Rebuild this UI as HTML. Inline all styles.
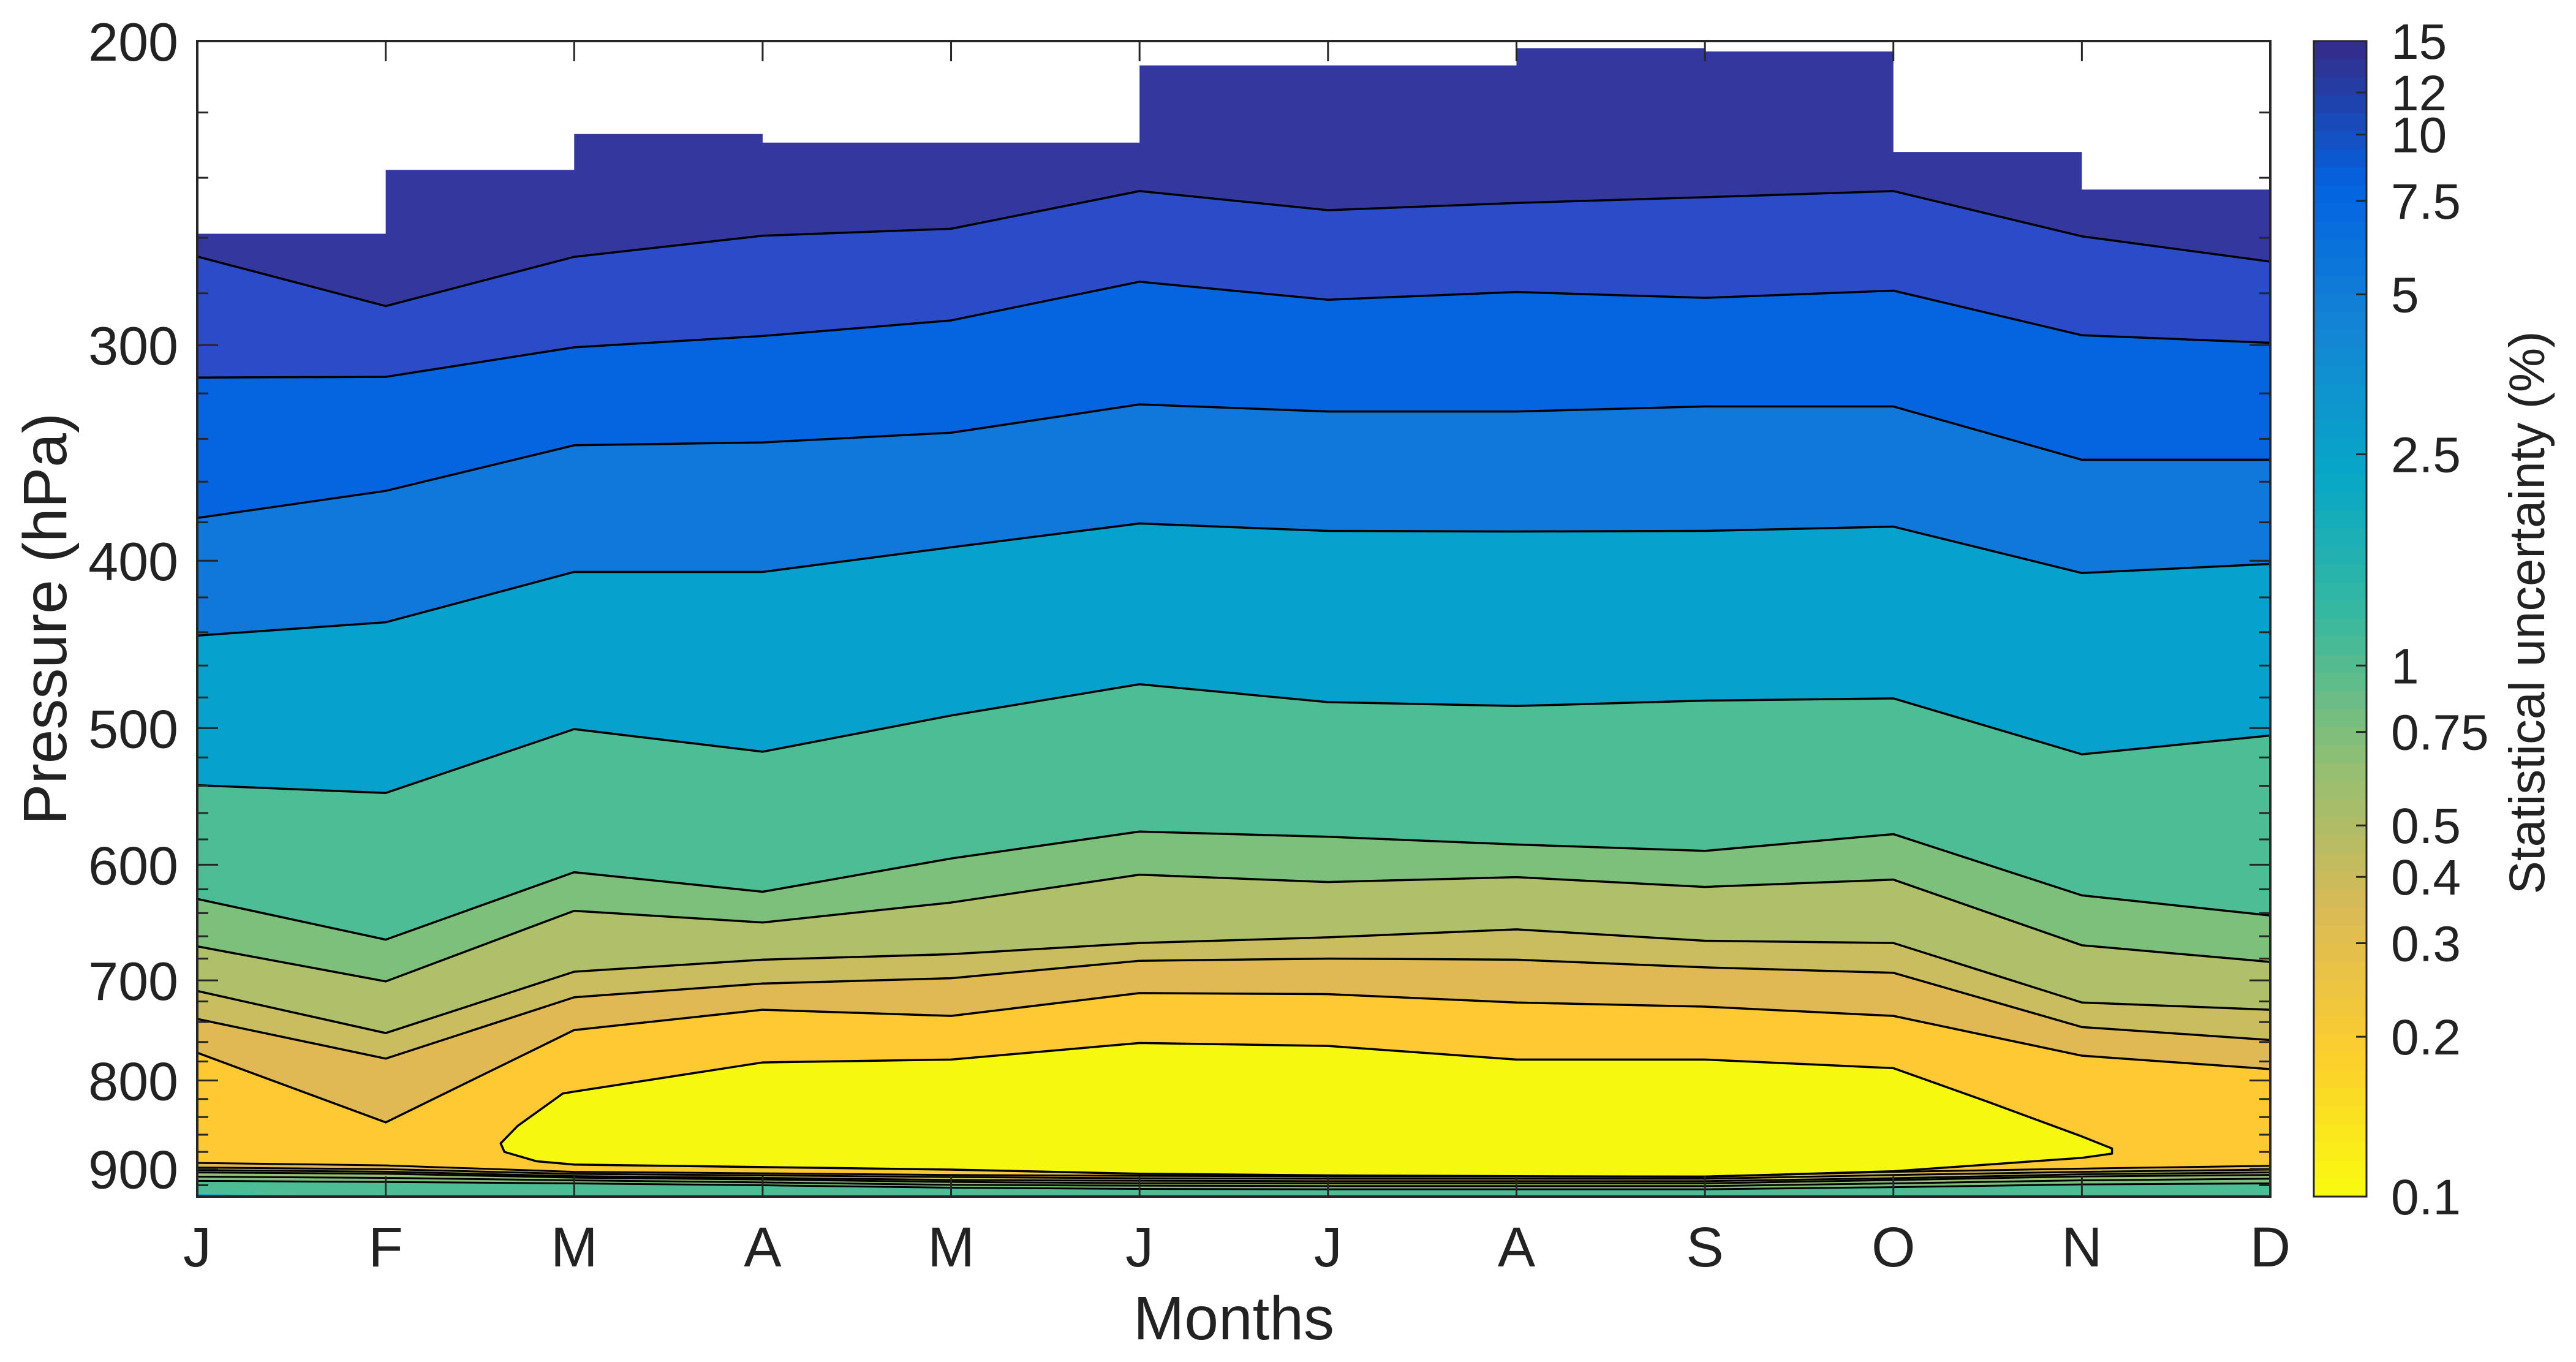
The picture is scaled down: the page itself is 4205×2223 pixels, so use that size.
<!DOCTYPE html>
<html><head><meta charset="utf-8"><title>Statistical uncertainty contour</title>
<style>html,body{margin:0;padding:0;background:#fff;}svg{display:block;font-family:"Liberation Sans",Arial,sans-serif;}</style>
</head><body>
<svg id="chart" width="4205" height="2223" viewBox="0 0 4205 2223" xmlns="http://www.w3.org/2000/svg">
<defs><clipPath id="plotclip"><rect x="322" y="67" width="3384" height="1886"/></clipPath></defs>
<g id="bands" clip-path="url(#plotclip)"></g>
<g id="lines" clip-path="url(#plotclip)"></g>
<g id="axes"></g>
<g id="cbar"></g>
<text x="2014" y="2186" font-size="100" text-anchor="middle" fill="#222">Months</text>
<text transform="translate(108,1010) rotate(-90)" font-size="100" text-anchor="middle" fill="#222">Pressure (hPa)</text>
<text transform="translate(4153,1000) rotate(-90)" font-size="82" text-anchor="middle" fill="#222" textLength="919" lengthAdjust="spacingAndGlyphs">Statistical uncertainty (%)</text>
</svg>
<script>
const months=['J','F','M','A','M','J','J','A','S','O','N','D'];
const yTicks=[200,300,400,500,600,700,800,900];
const cbTicks=[15,12,10,7.5,5,2.5,1,0.75,0.5,0.4,0.3,0.2,0.1];
const cbLabels=['15','12','10','7.5','5','2.5','1','0.75','0.5','0.4','0.3','0.2','0.1'];
// data top edge per month interval (hPa)
const topEdge=[258.6,237.5,226.4,229,229,206.6,206.6,201.9,202.8,231.9,243.8];
// contour boundaries (hPa) at each month
const b1=[266.6,284.8,266.7,259.3,256.9,244.3,250.6,248.2,246.3,244.3,259.5,268.4];
const b2=[313.3,313,300.9,296.4,290.3,275.7,282.4,279.5,281.7,279,296.1,299.1];
const b3=[377.8,364.4,342.9,341.6,337.2,324.7,327.8,327.8,325.6,325.6,349.6,349.6];
const b4=[442,434.2,406,406,392.9,380.6,384.4,384.7,384.4,382.2,406.6,401.7];
const b5=[539.6,545.2,500.7,516,491.7,471.6,483,485.5,482,480.6,517.8,505];
const b6=[628,663,606,622,595,574,578,584,589,576,625,642];
const b7=[669,701,638,648,631,608,614,610,618,612,668,683];
const b8=[710,751,692,681,676,666,661,654,664,666,721,728];
const b9=[737,777,716,703,698,682,680,681,688,693,745,758];
const b10=[771,846,748,728,734,712,713,721,725,734,774,788];
const b12=[893,896,903.7,905.5,907.5,908.5,909.2,909.2,909.2,903.7,899.8,896.5];
const b13=[898.5,900.5,906.2,908,910,911.5,912,912,912,907.5,903.7,901];
const b14=[901.6,903.5,908.9,911,913.5,914.5,915,915,915,911.4,906.6,904.4];
const b15=[904.4,906,910.7,913,916,917.5,917.7,917.7,917.7,913.6,909.2,907.4];
const b16=[909.5,911,914,916.5,919.5,920.5,921,921,921,917.7,914,912];
const b17=[914.6,916,917.7,920,923,924.5,925,925,925,922.3,919,917.7];
const b18=[931,934,945,945,945,945,945,945,945,945,945,945];
// yellow island (minimum region)
const islandTopM=[1.61,1.7,1.94,2,3,4,5,6,7,8,9,9.5,10,10.16];
const islandTopP=[870,850,814,812,781,778,761,764,778,778,787,823,862,876];
const islandBotM=[10.16,10,9,8,7,6,5,4,3,2,1.8,1.63];
const islandBotP=[882,887,903,909.6,909,908,906,901,898,895,891,880];

const NS='http://www.w3.org/2000/svg';
const X0=322,X1=3706,Y0=67,Y1=1953,PMIN=200,PMAX=934;
function xs(m){return X0+m*(X1-X0)/11;}
function ys(p){return Y0+Math.log(p/PMIN)/Math.log(PMAX/PMIN)*(Y1-Y0);}
function cy(v){return Y1-Math.log(v/0.1)/Math.log(150)*(Y1-Y0);}
function mk(tag,attrs,parent){const e=document.createElementNS(NS,tag);for(const k in attrs)e.setAttribute(k,attrs[k]);parent.appendChild(e);return e;}
const bandsG=document.getElementById('bands'),linesG=document.getElementById('lines'),axG=document.getElementById('axes'),cbG=document.getElementById('cbar');

const boundaries=[b1,b2,b3,b4,b5,b6,b7,b8,b9,b10,b12,b13,b14,b15,b16,b17,b18];
const fills=['#2c4bc8','#0564e0','#1178db','#06a1cc','#4cbd94','#7dc07c','#b0bf6a','#c9bd60','#e0b954','#fec932','#e0b954','#c9bd60','#b0bf6a','#98c072','#7dc07c','#4cbd94','#0aa3d0'];
const bandNames=['band-10-12','band-7.5-10','band-5-7.5','band-2.5-5','band-1-2.5','band-0.75-1','band-0.5-0.75','band-0.4-0.5','band-0.3-0.4','band-0.2-0.3','band-low-1','band-low-2','band-low-3','band-low-4','band-low-5','band-low-6','band-low-7'];

// top band with stepped data edge
let d='M'+xs(0)+','+ys(topEdge[0]);
for(let i=0;i<topEdge.length;i++){d+=' L'+xs(i)+','+ys(topEdge[i])+' L'+xs(i+1)+','+ys(topEdge[i]);}
d+=' L'+xs(11)+','+Y1+' L'+xs(0)+','+Y1+' Z';
const topBand=mk('path',{d:d,fill:'#34389e'},bandsG);



function linePts(arr){return arr.map((p,i)=>xs(i)+','+ys(p)).join(' L');}
boundaries.forEach((arr,k)=>{
  const path=mk('path',{d:'M'+linePts(arr)+' L'+xs(11)+','+Y1+' L'+xs(0)+','+Y1+' Z',fill:fills[k]},bandsG);
  
  
});
// island
let id='M';
id+=islandTopM.map((m,i)=>xs(m)+','+ys(islandTopP[i])).join(' L');
id+=' L'+islandBotM.map((m,i)=>xs(m)+','+ys(islandBotP[i])).join(' L')+' Z';
const isl=mk('path',{d:id,fill:'#f6f90f',stroke:'#000','stroke-width':3.5,'stroke-linejoin':'round'},linesG);


boundaries.forEach((arr,k)=>{
  if(k===boundaries.length-1)return;
  const l=mk('path',{d:'M'+linePts(arr),fill:'none',stroke:'#000','stroke-width':k>=10?3:3.5,'stroke-linejoin':'round'},linesG);
  
  
});

// axes frame
const frame=mk('rect',{x:X0,y:Y0,width:X1-X0,height:Y1-Y0,fill:'none',stroke:'#262626','stroke-width':4},axG);


months.forEach((m,i)=>{
  const x=xs(i);
  mk('line',{x1:x,y1:Y1,x2:x,y2:Y1-33,stroke:'#262626','stroke-width':3},axG);
  mk('line',{x1:x,y1:Y0,x2:x,y2:Y0+33,stroke:'#262626','stroke-width':3},axG);
  const t=mk('text',{x:x,y:2067,'font-size':92,'text-anchor':'middle',fill:'#222'},axG);
  t.textContent=m;
  
  
});
for(let p=200;p<=920;p+=20){
  const y=ys(p),major=(p%100===0),len=major?34:18;
  mk('line',{x1:X0,y1:y,x2:X0+len,y2:y,stroke:'#262626','stroke-width':3},axG);
  mk('line',{x1:X1,y1:y,x2:X1-len,y2:y,stroke:'#262626','stroke-width':3},axG);
}
yTicks.forEach(p=>{
  const t=mk('text',{x:291,y:ys(p)+32,'font-size':88,'text-anchor':'end',fill:'#222'},axG);
  t.textContent=String(p);
  
  
});

// colorbar (reversed parula on log scale)
const par=[[0,[53,42,135]],[0.125,[3,99,225]],[0.25,[20,133,212]],[0.375,[6,167,198]],[0.5,[56,185,158]],[0.625,[146,191,115]],[0.75,[217,186,86]],[0.875,[252,206,46]],[1,[249,251,14]]];
function parula(t){for(let i=1;i<par.length;i++){if(t<=par[i][0]){const a=par[i-1],b=par[i],f=(t-a[0])/(b[0]-a[0]);return 'rgb('+a[1].map((c,j)=>Math.round(c+(b[1][j]-c)*f)).join(',')+')';}}return 'rgb(249,251,14)';}
const CX0=3777,CX1=3863,N=64,h=(Y1-Y0)/N;
for(let i=0;i<N;i++){mk('rect',{x:CX0,y:Y0+i*h,width:CX1-CX0,height:h+0.8,fill:parula((i+0.5)/N)},cbG);}
const cbf=mk('rect',{x:CX0,y:Y0,width:CX1-CX0,height:Y1-Y0,fill:'none',stroke:'#262626','stroke-width':3},cbG);


cbTicks.forEach((v,i)=>{
  const y=cy(v);
  mk('line',{x1:CX1,y1:y,x2:CX1-17,y2:y,stroke:'#262626','stroke-width':3},cbG);
  const t=mk('text',{x:3903,y:y+29,'font-size':82,fill:'#222'},cbG);
  t.textContent=cbLabels[i];
  
  
});
</script>
</body></html>
